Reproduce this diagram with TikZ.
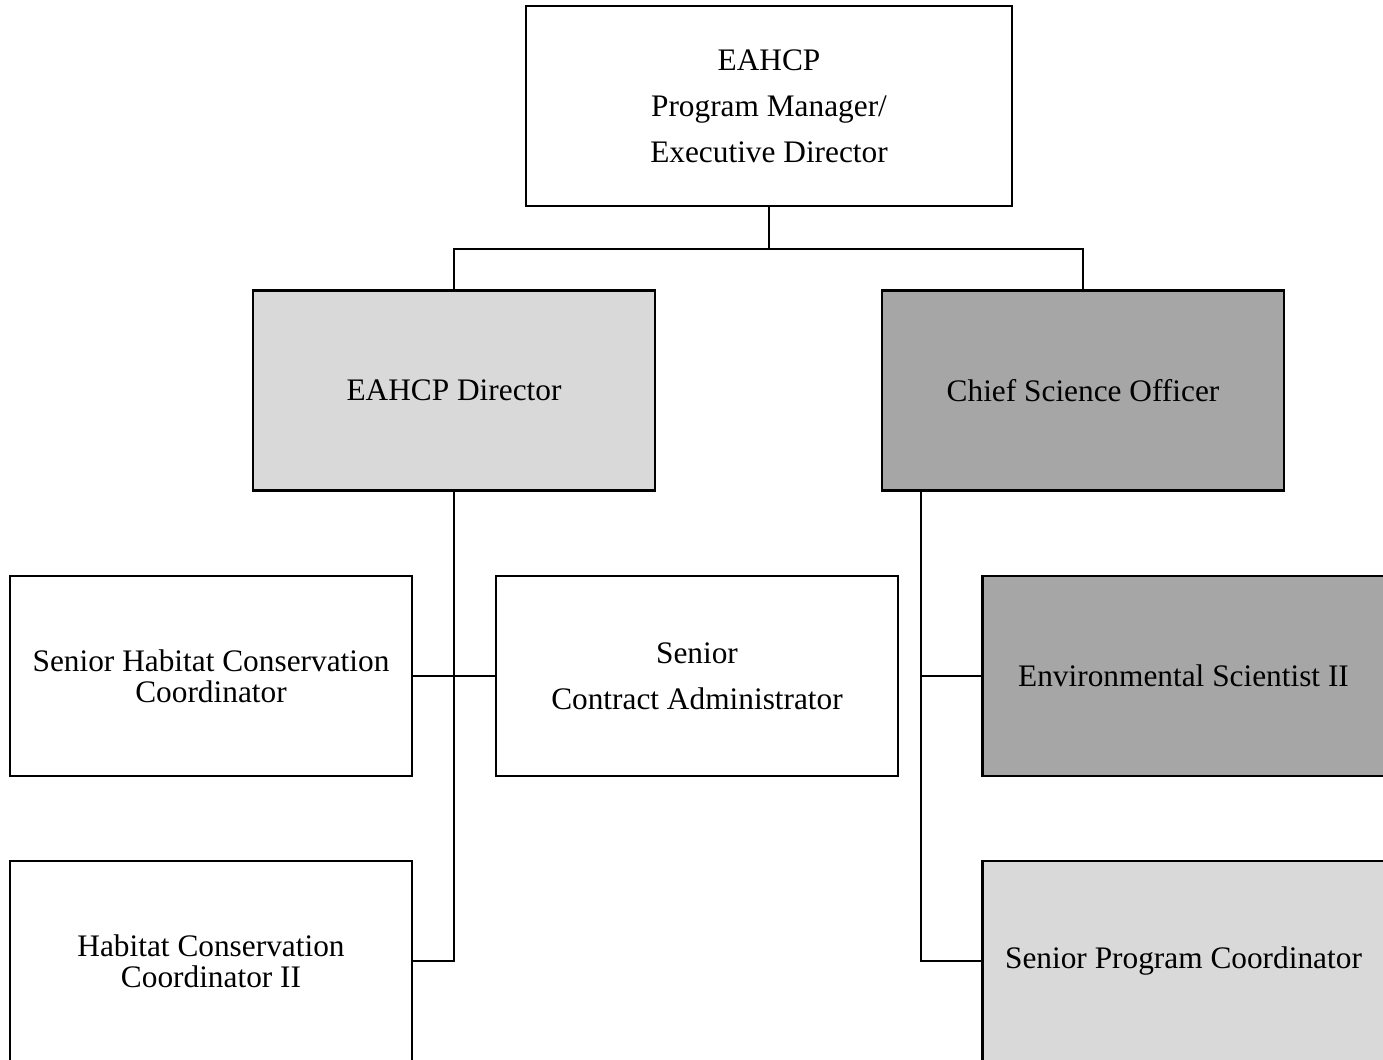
\documentclass[tikz,border=0pt]{standalone}
\usepackage{fontspec}
\setmainfont{Liberation Serif}
\definecolor{lightfill}{HTML}{D9D9D9}
\definecolor{darkfill}{HTML}{A6A6A6}
\begin{document}
\begin{tikzpicture}[x=0.75pt,y=-0.75pt,
  box/.style={draw=black,line width=1.8pt,inner sep=0pt,align=center,
    minimum width=301.5pt,minimum height=150pt},
  wide/.style={font=\fontsize{23.5pt}{34.5pt}\selectfont},
  tight/.style={font=\fontsize{23.5pt}{23.5pt}\selectfont},
  link/.style={draw=black,line width=1.8pt}]
\useasboundingbox (0,0) rectangle (1383,1059);
\clip (0,0) rectangle (1383,1059);
\node[box,wide,fill=white,minimum width=364.5pt] (top) at (769,106) {EAHCP\\Program Manager/\\Executive Director};
\node[box,wide,fill=lightfill] (dir) at (454,390.5) {EAHCP Director};
\node[box,wide,fill=darkfill] (cso) at (1083,390.5) {Chief Science Officer};
\node[box,tight,fill=white] (shcc) at (211,676) {Senior Habitat Conservation\\Coordinator};
\node[box,wide,fill=white] (sca) at (697,676) {Senior\\Contract Administrator};
\node[box,wide,fill=darkfill] (es2) at (1183.5,676) {Environmental Scientist II};
\node[box,tight,fill=white] (hcc2) at (211,961) {Habitat Conservation\\Coordinator II};
\node[box,wide,fill=lightfill] (spc) at (1183.5,961) {Senior Program Coordinator};
\coordinate (bus) at ([yshift=-31.5pt]top.south);
\draw[link] (top.south) -- (bus);
\draw[link] (bus) -| (dir.north);
\draw[link] (bus) -| (cso.north);
\draw[link] (dir.south) |- (hcc2.east);
\draw[link] (shcc.east) -- (sca.west);
\coordinate (csoline) at ([xshift=30pt]cso.south west);
\draw[link] (csoline) |- (spc.west);
\draw[link] (csoline) |- (es2.west);
\end{tikzpicture}
\end{document}
